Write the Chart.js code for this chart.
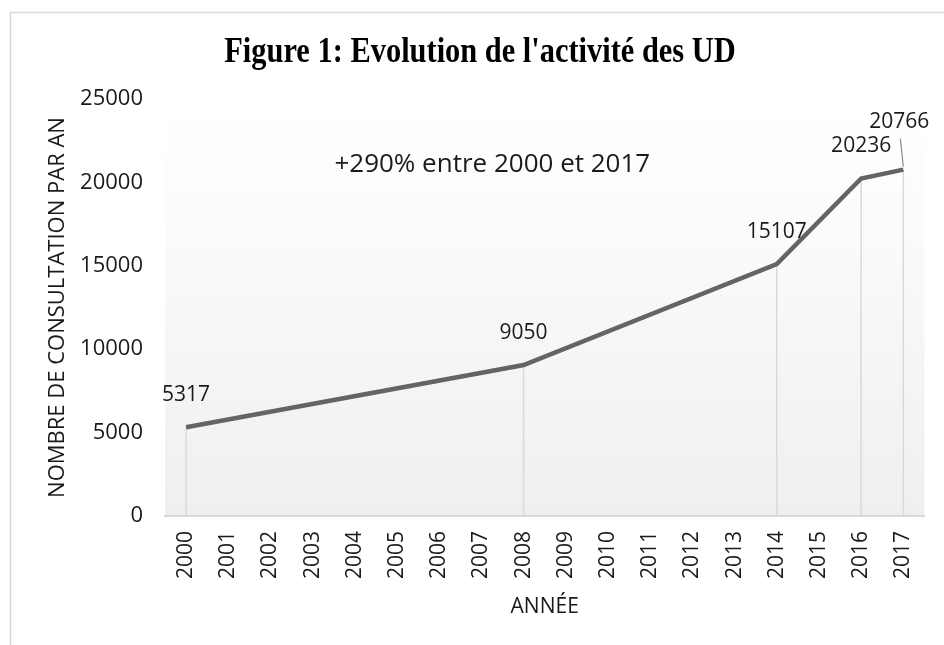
<!DOCTYPE html>
<html><head><meta charset="utf-8">
<script src="https://cdn.jsdelivr.net/npm/chart.js@4.4.1/dist/chart.umd.min.js"></script>
<style>html,body{margin:0;padding:0;background:#fff}#wrap{width:944px;height:645px}</style>
</head><body><div id="wrap"><canvas id="c" width="944" height="645"></canvas></div>
<script>
const titleText = "Figure 1: Evolution de l'activité des UD";
const annotationText = "+290% entre 2000 et 2017";
const xAxisTitle = "ANNÉE";
const yAxisTitle = "NOMBRE DE CONSULTATION PAR AN";
const years = ["2000","2001","2002","2003","2004","2005","2006","2007","2008","2009","2010","2011","2012","2013","2014","2015","2016","2017"];
const consultations = [5317,null,null,null,null,null,null,null,9050,null,null,null,null,null,15107,null,20236,20766];
const yMin = 0, yMax = 25000, yStep = 5000;

const TEXT = '#1a1a1a';
const FONT = "'Open Sans', sans-serif";

const framePlugin = {
  id: 'frame',
  beforeDraw(chart) {
    const {ctx, chartArea: a} = chart;
    ctx.save();
    ctx.fillStyle = '#ffffff';
    ctx.fillRect(0, 0, chart.width, chart.height);
    const g = ctx.createLinearGradient(0, a.top, 0, a.bottom);
    g.addColorStop(0, '#ffffff');
    g.addColorStop(0.25, '#fcfcfc');
    g.addColorStop(1, '#efefef');
    ctx.fillStyle = g;
    ctx.fillRect(a.left, a.top, a.right - a.left, a.bottom - a.top);
    ctx.strokeStyle = '#d9d9d9';
    ctx.lineWidth = 1.5;
    ctx.beginPath();
    ctx.moveTo(10.5, chart.height + 2);
    ctx.lineTo(10.5, 12.5);
    ctx.lineTo(chart.width + 2, 12.5);
    ctx.stroke();
    // title (condensed serif)
    ctx.fillStyle = '#000';
    ctx.font = "bold 36px 'Liberation Serif', serif";
    ctx.textAlign = 'center';
    ctx.textBaseline = 'alphabetic';
    ctx.translate(480, 62);
    ctx.scale(0.845, 1);
    ctx.fillText(titleText, 0, 0);
    ctx.restore();
  }
};

const dropLinePlugin = {
  id: 'dropLines',
  beforeDatasetsDraw(chart) {
    const {ctx, chartArea: a} = chart;
    const meta = chart.getDatasetMeta(0);
    ctx.save();
    ctx.strokeStyle = '#d9d9d9';
    ctx.lineWidth = 1.5;
    meta.data.forEach((pt, i) => {
      if (consultations[i] == null) return;
      ctx.beginPath();
      ctx.moveTo(pt.x, pt.y);
      ctx.lineTo(pt.x, a.bottom);
      ctx.stroke();
    });
    ctx.restore();
  }
};

const labelPlugin = {
  id: 'valueLabels',
  afterDatasetsDraw(chart) {
    const {ctx, chartArea: a} = chart;
    const meta = chart.getDatasetMeta(0);
    ctx.save();
    ctx.fillStyle = TEXT;
    ctx.font = "21px " + FONT;
    ctx.textAlign = 'center';
    ctx.textBaseline = 'middle';
    const last = consultations.length - 1;
    meta.data.forEach((pt, i) => {
      const v = consultations[i];
      if (v == null) return;
      let dx = 0, dy = -32;
      if (i === last) {
        dx = -4; dy = -48;
        ctx.save();
        ctx.strokeStyle = '#8c8c8c';
        ctx.lineWidth = 1.2;
        ctx.beginPath();
        ctx.moveTo(pt.x - 3, pt.y - 31);
        ctx.lineTo(pt.x, pt.y - 3);
        ctx.stroke();
        ctx.restore();
      }
      ctx.fillText(String(v), pt.x + dx, pt.y + dy);
    });
    // annotation
    ctx.font = "26px " + FONT;
    ctx.fillText(annotationText, a.left + (a.right - a.left) * 0.431, a.top + 66);
    ctx.restore();
  }
};

new Chart(document.getElementById('c'), {
  type: 'line',
  data: {
    labels: years,
    datasets: [{
      data: consultations,
      borderColor: '#646464',
      borderWidth: 4.5,
      pointRadius: 0,
      pointHoverRadius: 0,
      tension: 0,
      spanGaps: true,
      fill: false
    }]
  },
  options: {
    responsive: false,
    animation: false,
    events: [],
    layout: { padding: { left: 10, right: 17, top: 99, bottom: 0 } },
    plugins: { legend: { display: false }, tooltip: { enabled: false }, title: { display: false } },
    scales: {
      x: {
        offset: true,
        grid: { display: true, drawOnChartArea: false, drawTicks: false },
        border: { display: true, color: '#d9d9d9', width: 2 },
        ticks: { color: TEXT, font: { family: FONT, size: 21 }, minRotation: 90, maxRotation: 90, padding: 15, autoSkip: false },
        title: { display: true, text: xAxisTitle, color: TEXT, font: { family: FONT, size: 21 }, padding: { top: 4, bottom: 25 } },
        afterFit(s) { s.height = 129; }
      },
      y: {
        min: yMin, max: yMax,
        grid: { display: false, drawTicks: false },
        border: { display: false },
        ticks: { stepSize: yStep, color: TEXT, font: { family: FONT, size: 22 }, padding: 22, callback: (v) => String(v) },
        title: { display: true, text: yAxisTitle, color: TEXT, font: { family: FONT, size: 22 }, padding: { top: 35, bottom: 4 } },
        afterFit(s) { s.width = 155; }
      }
    }
  },
  plugins: [framePlugin, dropLinePlugin, labelPlugin]
});
</script>
</body></html>
